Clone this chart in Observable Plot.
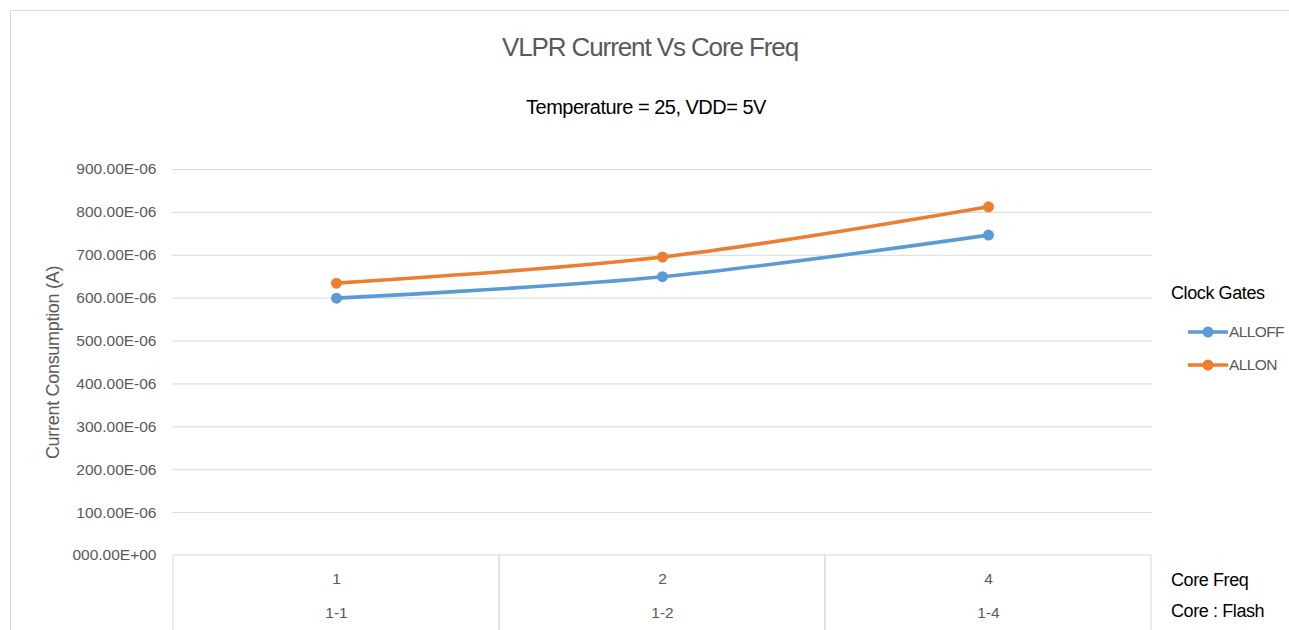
<!DOCTYPE html>
<html>
<head>
<meta charset="utf-8">
<script src="https://cdn.jsdelivr.net/npm/d3@7"></script>
<script src="https://cdn.jsdelivr.net/npm/@observablehq/plot@0.6"></script>
<style>
  html, body { margin: 0; padding: 0; background: #fff; overflow: hidden; }
  #wrap { position: relative; width: 1289px; height: 630px; overflow: hidden; font-family: "Liberation Sans", Arial, sans-serif; }
  #border { position: absolute; left: 10px; top: 10px; width: 1279px; height: 620px; border-top: 1px solid #d9d9d9; border-left: 1px solid #d9d9d9; box-sizing: border-box; }
  #chart { position: absolute; left: 0; top: 0; }
  .t { position: absolute; line-height: 1; white-space: nowrap; }
</style>
</head>
<body>
<div id="wrap">
  <div id="border"></div>
  <div id="chart"></div>
  <div class="t" id="title" style="left:0;width:1300px;text-align:center;top:34px;font-size:26px;color:#595959;letter-spacing:-1.1px;"></div>
  <div class="t" id="subtitle" style="left:0;width:1292px;text-align:center;top:97px;font-size:20px;color:#000;letter-spacing:-0.5px;"></div>
  <div class="t" id="legendTitle" style="left:1171px;top:284px;font-size:18px;color:#000;letter-spacing:-0.4px;"></div>
  <div id="legendItems"></div>
  <div class="t" id="xTitle1" style="left:1171px;top:571px;font-size:18px;color:#000;letter-spacing:-0.4px;"></div>
  <div class="t" id="xTitle2" style="left:1171px;top:602px;font-size:18px;color:#000;letter-spacing:-0.4px;"></div>
</div>
<script>
const titleText = "VLPR Current Vs Core Freq";
const subtitleText = "Temperature = 25, VDD= 5V";
const yLabel = "Current Consumption (A)";
const legendTitle = "Clock Gates";
const xTitles = ["Core Freq", "Core : Flash"];

const categories = ["1", "2", "4"];
const coreFlash = ["1-1", "1-2", "1-4"];
const series = ["ALLOFF", "ALLON"];
const allOff = [600e-6, 650e-6, 747e-6];
const allOn = [635e-6, 696e-6, 813e-6];
const colors = ["#5b9bd5", "#ed7d31"];
const yTicks = [0, 100e-6, 200e-6, 300e-6, 400e-6, 500e-6, 600e-6, 700e-6, 800e-6, 900e-6];
const yTickLabels = ["000.00E+00", "100.00E-06", "200.00E-06", "300.00E-06", "400.00E-06",
                     "500.00E-06", "600.00E-06", "700.00E-06", "800.00E-06", "900.00E-06"];

const seriesValues = [allOff, allOn];
const data = series.flatMap((s, i) => categories.map((c, j) => ({cat: c, series: s, value: seriesValues[i][j]})));

const plot = Plot.plot({
  width: 1289,
  height: 630,
  marginLeft: 172,
  marginRight: 137,
  marginTop: 169,
  marginBottom: 75,
  style: {fontFamily: "Liberation Sans, Arial, sans-serif", background: "transparent", overflow: "visible"},
  x: {type: "band", domain: categories, padding: 0, axis: null},
  y: {domain: [0, 900e-6]},
  color: {domain: series, range: colors},
  marks: [
    Plot.ruleY(yTicks.slice(1), {stroke: "#d9d9d9", strokeWidth: 1}),
    Plot.barY(categories, {x: d => d, y1: 0, y2: -185e-6, fill: "none", stroke: "#d9d9d9", strokeWidth: 1}),
    Plot.axisY({
      ticks: yTicks,
      tickFormat: d => yTickLabels[yTicks.findIndex(t => Math.abs(t - d) < 1e-12)],
      tickSize: 0, tickPadding: 16, fontSize: 15.5, fill: "#595959",
      label: yLabel, labelAnchor: "center", labelArrow: "none", labelOffset: 126
    }),
    Plot.text(categories, {x: d => d, y: 0, dy: 24, text: d => d, fontSize: 15.5, fill: "#595959"}),
    Plot.text(coreFlash, {x: (d, i) => categories[i], y: 0, dy: 58, text: d => d, fontSize: 15.5, fill: "#595959"}),
    Plot.line(data, {x: "cat", y: "value", stroke: "series", strokeWidth: 3.6, curve: "catmull-rom"}),
    Plot.dot(data, {x: "cat", y: "value", fill: "series", r: 5.5})
  ]
});
document.getElementById("chart").appendChild(plot);

// style the y label
d3.select(plot).selectAll("[aria-label='y-axis label'] text")
  .attr("font-size", 18).attr("fill", "#595959").attr("letter-spacing", "-0.3px");

document.getElementById("title").textContent = titleText;
document.getElementById("subtitle").textContent = subtitleText;
document.getElementById("legendTitle").textContent = legendTitle;
document.getElementById("xTitle1").textContent = xTitles[0];
document.getElementById("xTitle2").textContent = xTitles[1];

const legendTops = [332, 365];
const li = document.getElementById("legendItems");
series.forEach((s, i) => {
  const y = legendTops[i];
  const sw = document.createElementNS("http://www.w3.org/2000/svg", "svg");
  sw.setAttribute("width", 44); sw.setAttribute("height", 14);
  sw.style.position = "absolute"; sw.style.left = "1186px"; sw.style.top = (y - 7) + "px";
  sw.innerHTML = `<line x1="2" x2="42" y1="7" y2="7" stroke="${colors[i]}" stroke-width="3.6"/><circle cx="22" cy="7" r="5.5" fill="${colors[i]}"/>`;
  li.appendChild(sw);
  const t = document.createElement("div");
  t.className = "t";
  t.style.left = "1229px"; t.style.top = (y - 8) + "px"; t.style.fontSize = "15.5px";
  t.style.color = "#595959"; t.style.letterSpacing = "-0.6px";
  t.textContent = s;
  li.appendChild(t);
});
</script>
</body>
</html>
